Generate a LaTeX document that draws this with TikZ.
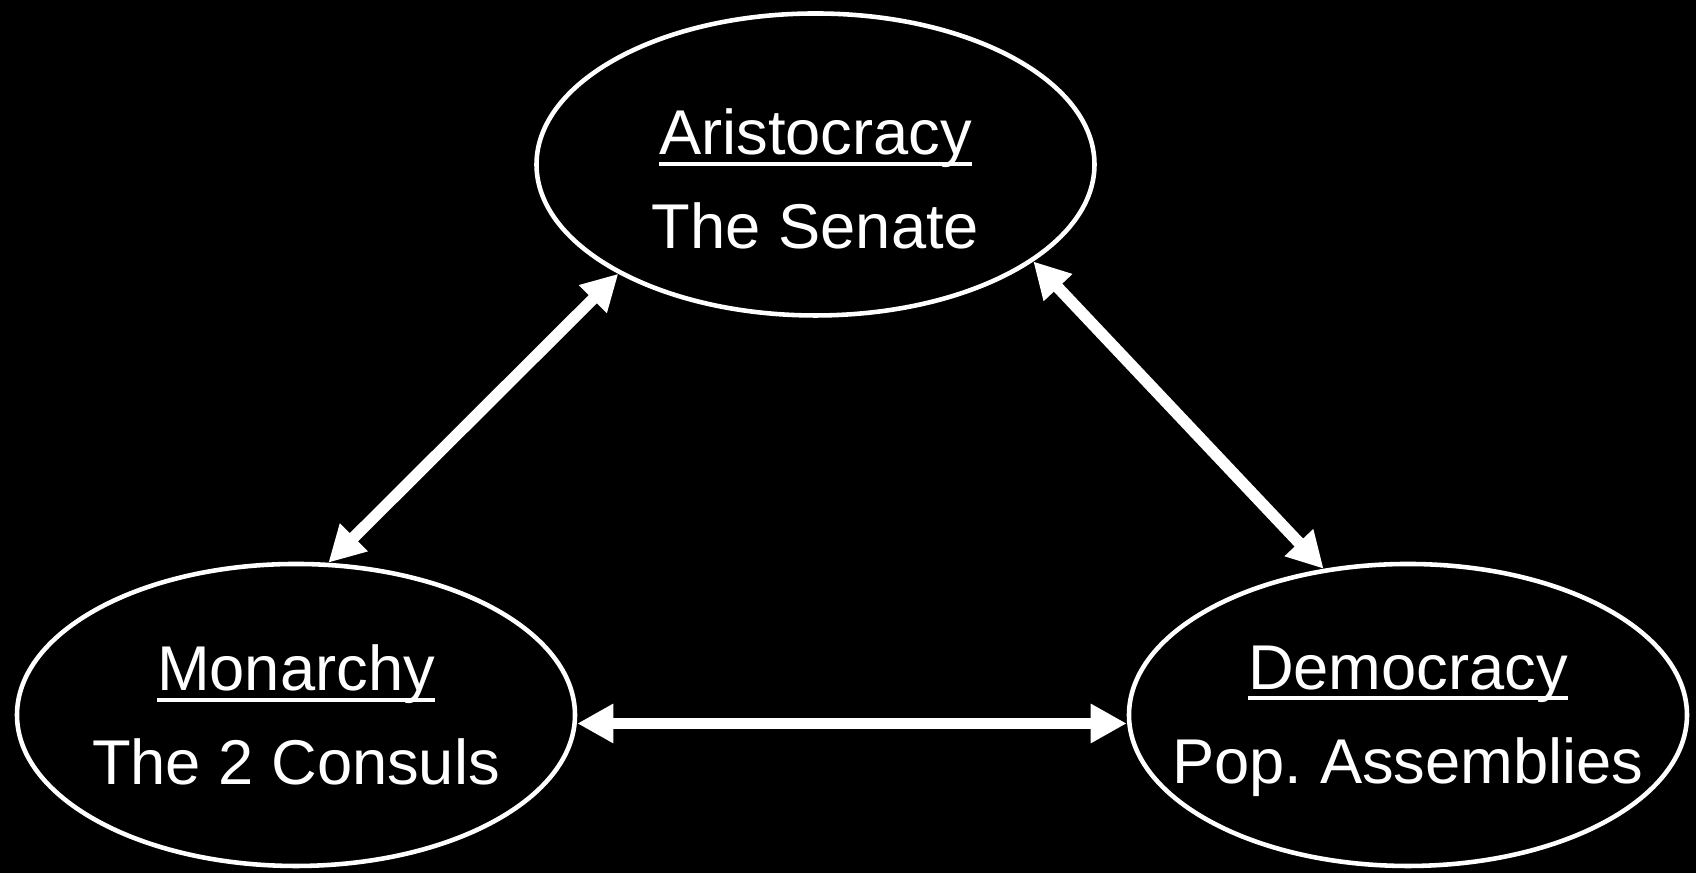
\documentclass[tikz,border=0pt]{standalone}
\usepackage{fontspec}
\setmainfont{Liberation Sans}
\usetikzlibrary{arrows.meta,shapes.geometric}
\newcommand\govul[1]{\setbox0\hbox{#1}\rlap{\rule[-3.1pt]{\wd0}{1.1pt}}#1}
\tikzset{
  govt/.style={draw=white, line width=1.3pt, ellipse, minimum width=5.58cm, minimum height=3.02cm, inner sep=0pt},
  govtext/.style={text=white, align=center, font=\fontsize{18}{26.7}\selectfont, inner sep=0pt},
  link/.style={draw=white, line width=3.3pt, {Triangle[length=3.6mm,width=3.7mm]}-{Triangle[length=3.6mm,width=3.7mm]}}
}
\begin{document}
\begin{tikzpicture}
\fill[black] (0,0) rectangle (16.96,8.73);
\useasboundingbox (0,0) rectangle (16.96,8.73);
\node[govt] (senate) at (8.155,7.085) {};
\node[govt] (consuls) at (2.96,1.58) {};
\node[govt] (assembly) at (14.08,1.58) {};
\node[govtext] (senatetext) at ([yshift=-0.145cm]senate) {\govul{Aristocracy}\\The Senate};
\node[govtext] (consulstext) at (consuls) {\govul{Monarchy}\\The 2 Consuls};
\node[govtext] (assemblytext) at ([yshift=-0.06cm]assembly) {\govul{Democracy}\\Pop.\ Assemblies};
\draw[link] (senate.209) -- (consuls.78);
\draw[link] (senate.336) -- (assembly.120);
\draw[link] ([yshift=-0.085cm]consuls.east) -- ([yshift=-0.085cm]assembly.west);
\end{tikzpicture}
\end{document}
